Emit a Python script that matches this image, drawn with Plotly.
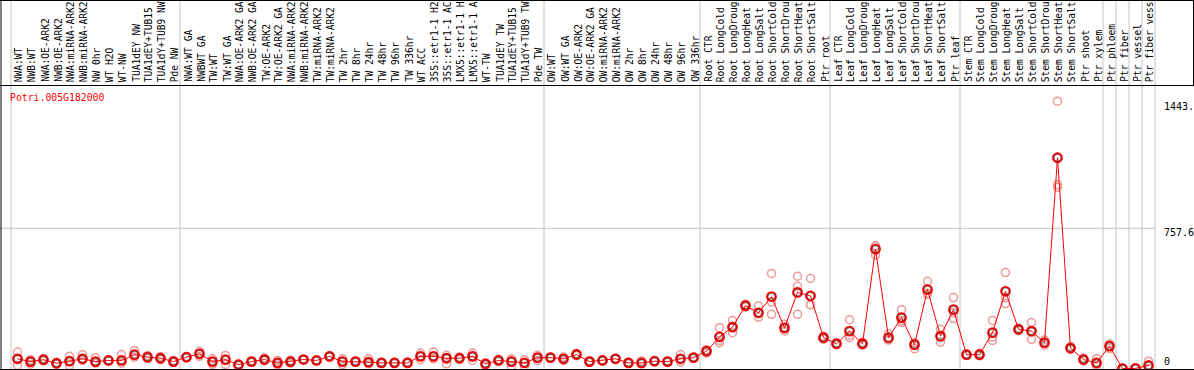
import plotly.graph_objects as go

# ---------------- data ----------------
labels_nw = ["NWA:WT", "NWB:WT", "NWA:OE-ARK2", "NWB:OE-ARK2", "NWA:miRNA-ARK2",
             "NWB:miRNA-ARK2", "NW 0hr", "WT H2O", "WT-NW", "TUA1dEY NW",
             "TUA1dEY+TUB15", "TUA1dY+TUB9 NW", "Pde NW"]
labels_tw = ["NWA:WT GA", "NWBWT GA", "TW:WT", "TW:WT GA", "NWA:OE-ARK2 GA",
             "NWB:OE-ARK2 GA", "TW:OE-ARK2", "TW:OE-ARK2 GA", "NWA:miRNA-ARK2",
             "NWB:miRNA-ARK2", "TW:miRNA-ARK2", "TW:miRNA-ARK2", "TW 2hr", "TW 8hr",
             "TW 24hr", "TW 48hr", "TW 96hr", "TW 336hr", "WT ACC", "35S::etr1-1 H2",
             "35S::etr1-1 AC", "LMX5::etr1-1 H", "LMX5::etr1-1 A", "WT-TW",
             "TUA1dEY TW", "TUA1dEY+TUB15", "TUA1dY+TUB9 TW", "Pde TW"]
labels_ow = ["OW:WT", "OW:WT GA", "OW:OE-ARK2", "OW:OE-ARK2 GA", "OW:miRNA-ARK2",
             "OW:miRNA-ARK2", "OW 2hr", "OW 8hr", "OW 24hr", "OW 48hr", "OW 96hr",
             "OW 336hr"]
labels_root = ["Root CTR", "Root LongCold", "Root LongDroug", "Root LongHeat",
               "Root LongSalt", "Root ShortCold", "Root ShortDrou", "Root ShortHeat",
               "Root ShortSalt", "Ptr root"]
labels_leaf = ["Leaf CTR", "Leaf LongCold", "Leaf LongDroug", "Leaf LongHeat",
               "Leaf LongSalt", "Leaf ShortCold", "Leaf ShortDrou", "Leaf ShortHeat",
               "Leaf ShortSalt", "Ptr leaf"]
labels_stem = ["Stem CTR", "Stem LongCold", "Stem LongDroug", "Stem LongHeat",
               "Stem LongSalt", "Stem ShortCold", "Stem ShortDrou", "Stem ShortHeat",
               "Stem ShortSalt", "Ptr shoot", "Ptr xylem"]
labels_phloem = ["Ptr phloem"]
labels_fiber = ["Ptr fiber"]
labels_vessel = ["Ptr vessel"]
labels_fibves = ["Ptr fiber vess"]

groups = [labels_nw, labels_tw, labels_ow, labels_root, labels_leaf, labels_stem,
          labels_phloem, labels_fiber, labels_vessel, labels_fibves]

mean_values = [
    54, 39, 49, 30, 41, 54, 39, 45, 45, 76, 63, 57, 39,
    63, 81, 39, 49, 22, 39, 50, 32, 39, 50, 45, 67, 39, 39, 36, 32, 32, 32, 67, 67,
    57, 57, 67, 27, 45, 39, 32, 60,
    60, 54, 77, 39, 45, 54, 32, 32, 41, 39, 54, 60,
    95, 172, 225, 341, 302, 389, 221, 412, 393, 168,
    135, 203, 135, 645, 168, 276, 130, 427, 176, 319,
    76, 76, 195, 418, 213, 203, 141, 1138, 112, 50, 32,
    122, 1, 2, 18,
]
rep1 = [
    90, 49, 55, 34, 67, 76, 60, 48, 77, 99, 72, 66, 45,
    66, 94, 54, 72, 26, 43, 58, 45, 46, 52, 47, 70, 54, 42, 54, 35, 35, 36, 85, 90,
    73, 63, 85, 31, 51, 54, 49, 73,
    63, 63, 83, 43, 48, 57, 35, 42, 44, 42, 77, 63,
    103, 222, 261, 348, 339, 514, 240, 499, 487, 175,
    140, 265, 142, 663, 189, 319, 140, 472, 213, 384,
    80, 84, 261, 519, 220, 249, 155, 1443.0, 120, 58, 54,
    135, 3, 4, 41,
]
rep2 = [
    54, 39, 49, 30, 41, 54, 39, 45, 45, 76, 63, 57, 39,
    63, 81, 39, 49, 22, 39, 50, 32, 39, 50, 45, 67, 39, 39, 36, 32, 32, 32, 67, 67,
    57, 57, 67, 27, 45, 39, 32, 60,
    60, 54, 77, 39, 45, 54, 32, 32, 41, 39, 54, 60,
    95, 152, 225, 341, 300, 360, 221, 445, 346, 168,
    135, 180, 135, 660, 160, 260, 140, 408, 170, 302,
    76, 76, 171, 383, 213, 200, 141, 992, 112, 50, 25,
    122, 0, 2, 14,
]
rep3 = [
    18, 25, 42, 24, 18, 45, 30, 42, 30, 63, 55, 49, 34,
    60, 67, 24, 23, 17, 34, 43, 20, 30, 48, 43, 64, 23, 36, 27, 29, 29, 28, 49, 54,
    27, 50, 45, 18, 40, 14, 14, 45,
    57, 45, 70, 35, 42, 51, 29, 27, 38, 36, 36, 57,
    85, 141, 195, 333, 279, 294, 205, 294, 346, 160,
    130, 168, 128, 613, 155, 249, 108, 402, 144, 271,
    72, 70, 153, 352, 206, 159, 127, 979, 104, 42, 17,
    109, 0, 0, 0,
]

gene_name = "Potri.005G182000"
y_tick_labels = ["1443.", "757.6", "0"]
y_tick_values = [1443.0, 757.6, 0]

# ---------------- geometry helpers ----------------
W, H = 1194, 370
COL_W = 13.0
X_START = 11.0            # pixel of left edge of first column
ZERO_PX = 368.8           # pixel row of value 0
UNITS_PER_PX = 757.6 / (ZERO_PX - 228.3)


def px_x(p):
    return (p - X_START - COL_W / 2) / COL_W


def px_y(p):
    return (ZERO_PX - p) * UNITS_PER_PX


categories = [lab for g in groups for lab in g]
xs = list(range(len(categories)))

MONO = "DejaVu Sans Mono"

fig = go.Figure()

# replicates
for rep in (rep1, rep2, rep3):
    fig.add_trace(go.Scatter(
        x=xs, y=rep, mode="markers", cliponaxis=False, hoverinfo="skip",
        marker=dict(symbol="circle-open", size=8, color="#ec9a9a",
                    line=dict(width=1.5, color="#ec9a9a")),
        showlegend=False))

# mean line
fig.add_trace(go.Scatter(
    x=xs, y=mean_values, mode="lines+markers", cliponaxis=False,
    line=dict(color="#ff0000", width=1),
    marker=dict(symbol="circle-open", size=9, color="#ff0000",
                line=dict(width=1.8, color="#ff0000")),
    showlegend=False))
fig.add_trace(go.Scatter(
    x=xs, y=mean_values, mode="markers", cliponaxis=False, hoverinfo="skip",
    marker=dict(symbol="circle-open", size=7, color="#300000",
                line=dict(width=0.6, color="#300000")),
    showlegend=False))

shapes = []
grey = "#c4c4c4"
# group separators
bounds = [0]
for g in groups:
    bounds.append(bounds[-1] + len(g))
for b in bounds:
    shapes.append(dict(type="line", xref="x", yref="paper", x0=b - 0.5, x1=b - 0.5,
                       y0=0, y1=1, line=dict(color=grey, width=1), layer="below"))
# mid grid line
shapes.append(dict(type="line", xref="x", yref="y", x0=px_x(0), x1=bounds[-1] - 0.5,
                   y0=757.6, y1=757.6, line=dict(color=grey, width=1), layer="below"))
# black frame lines
black = dict(color="#000000", width=1)
shapes += [
    dict(type="line", xref="paper", yref="paper", x0=0, x1=1, y0=1 - 0.5 / H, y1=1 - 0.5 / H, line=black),
    dict(type="line", xref="paper", yref="paper", x0=0, x1=1, y0=1 - 85.5 / H, y1=1 - 85.5 / H, line=black),
    dict(type="line", xref="paper", yref="paper", x0=0, x1=1, y0=1 - 369.5 / H, y1=1 - 369.5 / H, line=black),
    dict(type="line", xref="paper", yref="paper", x0=1 / W, x1=1 / W, y0=0, y1=1, line=black),
    dict(type="line", xref="paper", yref="paper", x0=1 - 0.5 / W, x1=1 - 0.5 / W,
         y0=1 - 85.5 / H, y1=1, line=black),
]

annotations = []
for i, lab in enumerate(categories):
    annotations.append(dict(
        x=i + 0.1, y=px_y(84), xref="x", yref="y", text=lab, showarrow=False,
        textangle=-90, xanchor="center", yanchor="bottom",
        font=dict(family=MONO, size=9.6, color="#000000")))

annotations.append(dict(
    x=px_x(8), y=px_y(97.5), xref="x", yref="y", text=gene_name, showarrow=False,
    xanchor="left", yanchor="middle",
    font=dict(family=MONO, size=9.8, color="#ff0000")))

label_shift = [-5, -4, 0]
for val, txt, sh in zip(y_tick_values, y_tick_labels, label_shift):
    yy = val if val > 0 else px_y(361.7)
    annotations.append(dict(
        x=px_x(1162), y=yy, xref="x", yref="y", text=txt, showarrow=False,
        xanchor="left", yanchor="middle", yshift=sh,
        font=dict(family=MONO, size=10, color="#000000")))

fig.update_layout(
    width=W, height=H, margin=dict(l=0, r=0, t=0, b=0),
    paper_bgcolor="white", plot_bgcolor="white",
    xaxis=dict(range=[px_x(0), px_x(W)], visible=False, fixedrange=True),
    yaxis=dict(range=[px_y(H), px_y(0)], visible=False, fixedrange=True),
    shapes=shapes, annotations=annotations, showlegend=False,
)

fig.write_html("out.html", config={"displayModeBar": False})

# remove default page margins so the figure sits at the window's top-left corner
with open("out.html", "r", encoding="utf-8") as fh:
    html = fh.read()
html = html.replace("<head>", "<head><style>html,body{margin:0;padding:0;overflow:hidden;}</style>", 1)
with open("out.html", "w", encoding="utf-8") as fh:
    fh.write(html)
